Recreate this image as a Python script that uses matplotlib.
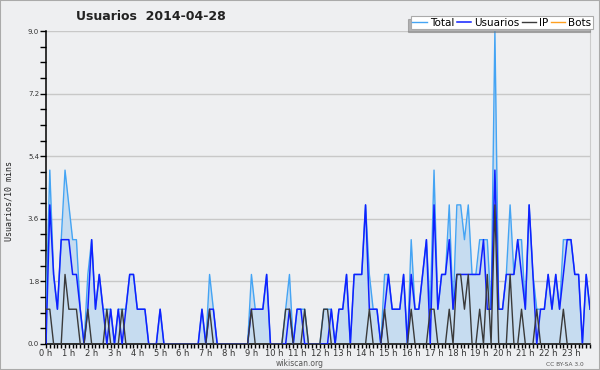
import numpy as np
import matplotlib
matplotlib.use("Agg")
import matplotlib.pyplot as plt
from matplotlib.ticker import MultipleLocator, FixedLocator

# edits per 10 minutes, 2014-04-28 (144 slots)
usuarios = [0, 4, 2, 1, 3, 3, 3, 2, 2, 1, 0, 1, 3, 1, 2, 1, 0, 1, 0, 1, 0, 1, 2, 2,
            1, 1, 1, 0, 0, 0, 1, 0, 0, 0, 0, 0, 0, 0, 0, 0, 0, 1, 0, 1, 1, 0, 0, 0,
            0, 0, 0, 0, 0, 0, 1, 1, 1, 1, 2, 0, 0, 0, 0, 0, 1, 0, 1, 1, 0, 0, 0, 0,
            0, 0, 0, 1, 0, 1, 1, 2, 0, 2, 2, 2, 4, 1, 1, 1, 0, 1, 2, 1, 1, 1, 2, 0,
            2, 1, 1, 2, 3, 0, 4, 1, 2, 2, 3, 1, 2, 2, 2, 2, 2, 2, 2, 3, 1, 1, 5, 1,
            1, 2, 2, 2, 3, 2, 1, 4, 2, 0, 1, 1, 2, 1, 2, 1, 2, 3, 3, 2, 2, 0, 2, 1]
ip = [1, 1, 0, 0, 0, 2, 1, 1, 1, 0, 0, 1, 0, 0, 0, 0, 1, 0, 0, 0, 1, 0, 0, 0,
      0, 0, 0, 0, 0, 0, 0, 0, 0, 0, 0, 0, 0, 0, 0, 0, 0, 0, 0, 1, 0, 0, 0, 0,
      0, 0, 0, 0, 0, 0, 1, 0, 0, 0, 0, 0, 0, 0, 0, 1, 1, 0, 0, 0, 1, 0, 0, 0,
      0, 1, 1, 0, 0, 0, 0, 0, 0, 0, 0, 0, 0, 1, 0, 0, 0, 1, 0, 0, 0, 0, 0, 0,
      1, 0, 0, 0, 0, 1, 1, 0, 0, 0, 1, 0, 2, 2, 1, 2, 0, 0, 1, 0, 2, 0, 4, 0,
      0, 0, 2, 0, 0, 1, 0, 0, 0, 1, 0, 0, 0, 0, 0, 0, 1, 0, 0, 0, 0, 0, 0, 0]
total = [1, 5, 2, 1, 3, 5, 4, 3, 3, 1, 0, 2, 3, 1, 2, 1, 1, 1, 0, 1, 1, 1, 2, 2,
         1, 1, 1, 0, 0, 0, 1, 0, 0, 0, 0, 0, 0, 0, 0, 0, 0, 1, 0, 2, 1, 0, 0, 0,
         0, 0, 0, 0, 0, 0, 2, 1, 1, 1, 2, 0, 0, 0, 0, 1, 2, 0, 1, 1, 1, 0, 0, 0,
         0, 1, 1, 1, 0, 1, 1, 2, 0, 2, 2, 2, 4, 2, 1, 1, 0, 2, 2, 1, 1, 1, 2, 0,
         3, 1, 1, 2, 3, 1, 5, 1, 2, 2, 4, 1, 4, 4, 3, 4, 2, 2, 3, 3, 3, 1, 9, 1,
         1, 2, 4, 2, 3, 3, 1, 4, 2, 1, 1, 1, 2, 1, 2, 1, 3, 3, 3, 2, 2, 0, 2, 1]
bots = [0] * 144

hour_labels = ["%d h" % h for h in range(24)]
yticks = [0.0, 1.8, 3.6, 5.4, 7.2, 9.0]

bg = "#eeeff1"
x = np.arange(len(total))

fig = plt.figure(figsize=(6, 3.7), dpi=100, facecolor=bg)
ax = fig.add_axes([46 / 600, 26 / 370, 544 / 600, 313 / 370], facecolor=bg)

ax.fill_between(x, 0, total, color="#c6dcf0", lw=0, zorder=1)
ax.plot(x, bots, color="#ffa020", lw=1, zorder=2, label="Bots")
ax.plot(x, total, color="#44a4f4", lw=1, zorder=3, label="Total")
ax.plot(x, usuarios, color="#1020ff", lw=1.1, zorder=4, label="Usuarios")
ax.plot(x, ip, color="#3a3a3a", lw=1, zorder=5, label="IP")

ax.set_xlim(0, 143)
ax.set_ylim(0, 9)

ax.yaxis.set_major_locator(FixedLocator(yticks))
ax.set_yticklabels(["%.1f" % v for v in yticks])
ax.yaxis.set_minor_locator(MultipleLocator(0.45))
ax.xaxis.set_major_locator(FixedLocator(range(0, 144, 6)))
ax.set_xticklabels(hour_labels)
ax.xaxis.set_minor_locator(MultipleLocator(1))

ax.tick_params(axis="y", which="both", direction="out", length=4, width=1,
               labelsize=5, pad=1, colors="black", labelcolor="#333333")
ax.tick_params(axis="x", which="both", direction="out", length=3, width=1,
               labelsize=6, pad=0.5, labelcolor="#333333")

ax.grid(axis="y", which="major", color="#c8c8c8", lw=1, zorder=0)
ax.set_axisbelow(True)
ax.spines["top"].set_visible(False)
ax.spines["right"].set_color("#cccccc")
ax.spines["left"].set_linewidth(1.1)
ax.spines["bottom"].set_linewidth(1.1)

h, l = ax.get_legend_handles_labels()
order = [1, 2, 3, 0]
leg = fig.legend([h[i] for i in order], [l[i] for i in order], ncol=4,
                 loc="upper right", bbox_to_anchor=(593 / 600, 1 - 16 / 370),
                 fontsize=7.5, handlelength=1.4, handletextpad=0.3,
                 columnspacing=0.2, borderpad=0.15, borderaxespad=0,
                 fancybox=False, framealpha=1, edgecolor="#aaaaaa",
                 shadow={"ox": -2, "oy": -2, "color": "#777777"})
leg.get_frame().set_linewidth(0.8)

fig.text(151 / 600, 1 - 16 / 370, "Usuarios  2014-04-28", fontsize=9,
         fontweight="bold", ha="center", va="center", color="#222222")
fig.text(9 / 600, 1 - 201 / 370, "Usuarios/10 mins", rotation=90,
         family="DejaVu Sans Mono", fontsize=6, ha="center", va="center",
         color="#222222")
fig.text(300 / 600, 1 - 364 / 370, "wikiscan.org", fontsize=5.5,
         ha="center", va="center", color="#555555")
fig.text(565 / 600, 1 - 364 / 370, "CC BY-SA 3.0", fontsize=4.2,
         ha="center", va="center", color="#555555")

fig.patches.append(plt.Rectangle((0, 0), 1, 1, transform=fig.transFigure,
                                 fill=False, edgecolor="#aaaaaa", lw=1.5))

fig.savefig("out.png", dpi=100, facecolor=bg)
